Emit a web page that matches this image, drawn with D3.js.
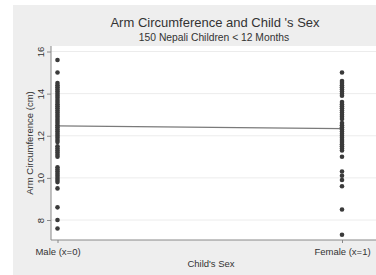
<!DOCTYPE html>
<html>
<head>
<meta charset="utf-8">
<script src="https://cdn.jsdelivr.net/npm/d3@7"></script>
<style>
body{margin:0;background:#fff;}
text{font-family:Arial,"Liberation Sans",sans-serif;fill:#333;}
</style>
</head>
<body>
<svg id="chart" width="376" height="275"></svg>
<script>
// data
let sexCodes=[0, 1];
let sexLabels=["Male (x=0)", "Female (x=1)"];
let maleArm=[15.6, 15.0, 14.5, 14.4, 14.3, 14.2, 14.1, 14.0, 13.9, 13.8, 13.7, 13.6, 13.5, 13.4, 13.3, 13.2, 13.1, 13.0, 12.9, 12.8, 12.7, 12.6, 12.5, 12.4, 12.3, 12.2, 12.1, 12.0, 11.9, 11.8, 11.7, 11.5, 11.4, 11.3, 11.2, 11.1, 11.0, 10.5, 10.4, 10.3, 10.2, 10.1, 10.0, 9.9, 9.8, 9.5, 8.6, 8.0, 7.6];
let femaleArm=[15.0, 14.6, 14.5, 14.4, 14.3, 14.2, 14.1, 14.0, 13.9, 13.6, 13.5, 13.4, 13.3, 13.2, 13.1, 13.0, 12.9, 12.8, 12.6, 12.5, 12.4, 12.3, 12.2, 12.1, 12.0, 11.9, 11.8, 11.7, 11.6, 11.5, 11.4, 11.3, 11.0, 10.3, 10.1, 9.9, 9.6, 8.5, 7.3];
let fitLine=[12.47, 12.34]; // fitted values at x=0 and x=1
let yTicks=[8, 10, 12, 14, 16];

let svg=d3.select("#chart");

// grey outer panel
svg.append("rect").attr("x",13).attr("y",5).attr("width",363).attr("height",270).attr("fill","#eeeeee");

// plot region
let pLeft=51, pRight=376, pTop=46, pBottom=240;
svg.append("rect").attr("x",pLeft).attr("y",pTop).attr("width",pRight-pLeft).attr("height",pBottom-pTop).attr("fill","#fff");

let y=d3.scaleLinear().domain([8,16]).range([220,51.5]);
let x=d3.scaleLinear().domain([0,1]).range([57.5,342]);

// gridlines
svg.append("g").selectAll("line")
    .data(yTicks)
    .enter()
    .append("line")
    .attr("x1",pLeft).attr("x2",pRight)
    .attr("y1",d=>y(d)).attr("y2",d=>y(d))
    .attr("stroke","#ececec").attr("stroke-width",1);

// axes
let yAxis=svg.append("g").attr("transform","translate("+pLeft+",0)")
    .call(d3.axisLeft(y).tickValues(yTicks).tickSize(4).tickPadding(5));
yAxis.select(".domain").attr("d","M0,"+pTop+"V"+pBottom);
yAxis.selectAll("text")
    .attr("transform","rotate(-90,-10,0)")
    .attr("x",-10).attr("dy","0.35em").attr("text-anchor","middle")
    .style("font-size","9.5px");

let xAxis=svg.append("g").attr("transform","translate(0,"+pBottom+")")
    .call(d3.axisBottom(x).tickValues(sexCodes).tickFormat((d,i)=>sexLabels[i]).tickSize(3).tickPadding(5));
xAxis.select(".domain").attr("d","M"+pLeft+",0H"+pRight);
xAxis.selectAll("text").style("font-size","9.5px");
svg.selectAll(".domain").attr("stroke","#888");
svg.selectAll(".tick line").attr("stroke","#888");
svg.selectAll(".tick text").style("fill","#333").style("font-family","Arial,'Liberation Sans',sans-serif");

// fitted line
svg.append("line")
    .attr("x1",x(0)).attr("y1",y(fitLine[0]))
    .attr("x2",x(1)).attr("y2",y(fitLine[1]))
    .attr("stroke","#7a7a7a").attr("stroke-width",1.2);

// dots
let pts=maleArm.map(v=>[0,v]).concat(femaleArm.map(v=>[1,v]));
svg.append("g").selectAll("circle")
    .data(pts)
    .enter()
    .append("circle")
    .attr("cx",d=>x(d[0]))
    .attr("cy",d=>y(d[1]))
    .attr("r",2.3)
    .attr("fill","#3a3a3a");

// titles
svg.append("text").attr("x",215).attr("y",27).attr("text-anchor","middle")
    .style("font-size","13px").text("Arm Circumference and Child 's Sex");
svg.append("text").attr("x",214).attr("y",41).attr("text-anchor","middle")
    .style("font-size","10.3px").text("150 Nepali Children < 12 Months");
svg.append("text").attr("transform","translate(33,143) rotate(-90)").attr("text-anchor","middle")
    .style("font-size","9.5px").text("Arm Circumference (cm)");
svg.append("text").attr("x",211).attr("y",267).attr("text-anchor","middle")
    .style("font-size","9.5px").text("Child's Sex");
</script>
</body>
</html>
